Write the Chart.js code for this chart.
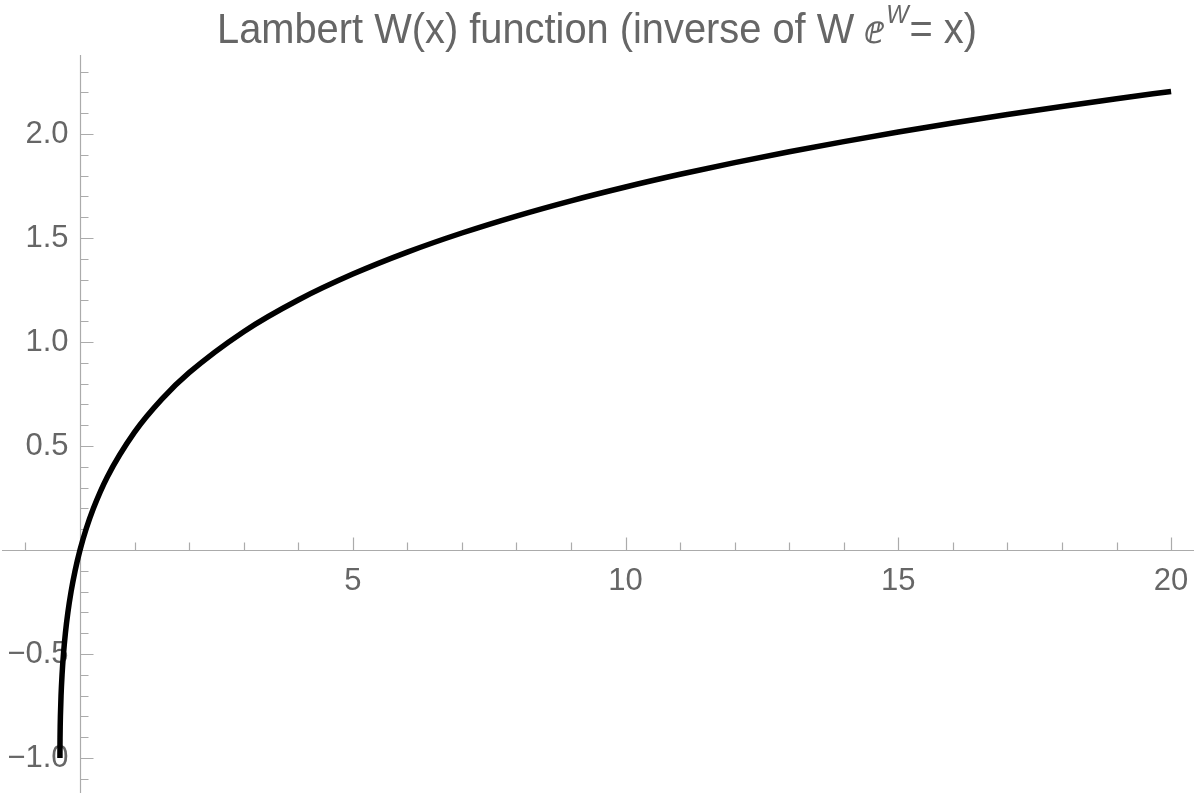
<!DOCTYPE html>
<html>
<head>
<meta charset="utf-8">
<script src="https://cdn.jsdelivr.net/npm/chart.js@4/dist/chart.umd.min.js"></script>
<style>
  html, body { margin: 0; padding: 0; background: #fff; }
  canvas { display: block; }
</style>
</head>
<body>
<canvas id="grafico" width="1200" height="797"></canvas>
<script>
// Pontos (x, W(x))
const xs = [-0.3679, -0.3674, -0.3659, -0.3633, -0.3595, -0.3476, -0.3293, -0.3033, -0.2681, -0.2222,
            -0.1637, -0.0905, 0, 0.1105, 0.2443, 0.5, 1, 1.5, 2, 3, 4, 5, 6, 7, 8, 9, 10,
            11, 12, 13, 14, 15, 16, 17, 18, 19, 20];
const ws = [-1.0, -0.95, -0.90, -0.85, -0.80, -0.70, -0.60, -0.50, -0.40, -0.30,
            -0.20, -0.10, 0, 0.10, 0.20, 0.3517, 0.5671, 0.7259, 0.8526, 1.0499, 1.2022, 1.3267, 1.4324, 1.5243, 1.6058, 1.6791, 1.7455,
            1.8065, 1.8628, 1.9150, 1.9637, 2.0100, 2.0533, 2.0942, 2.1328, 2.1700, 2.2050];

// Marcas dos eixos
const xMajor = [5, 10, 15, 20];
const xLabels = ['5', '10', '15', '20'];
const xMinor = [-1, 1, 2, 3, 4, 6, 7, 8, 9, 11, 12, 13, 14, 16, 17, 18, 19];
const yMajor = [-1.0, -0.5, 0.5, 1.0, 1.5, 2.0];
const yLabels = ['\u22121.0', '\u22120.5', '0.5', '1.0', '1.5', '2.0'];
const yMinor = [-1.1, -0.9, -0.8, -0.7, -0.6, -0.4, -0.3, -0.2, -0.1, 0.1, 0.2, 0.3, 0.4,
                0.6, 0.7, 0.8, 0.9, 1.1, 1.2, 1.3, 1.4, 1.6, 1.7, 1.8, 1.9, 2.1, 2.2, 2.3];

const tituloPartes = ['Lambert W(x) function (inverse of W ', '\u2147', 'W', '= x)'];

const pontos = xs.map((x, i) => ({ x: x, y: ws[i] }));

const corEixo = '#ababab';
const corTexto = '#666666';
const fonte = '"Liberation Sans", Arial, Helvetica, sans-serif';

// Eixos ao estilo Mathematica, a cruzar na origem
const eixosPlugin = {
  id: 'eixos',
  beforeDatasetsDraw(chart) {
    const c = chart.ctx;
    const area = chart.chartArea;
    const sx = chart.scales.x, sy = chart.scales.y;
    const x0 = Math.round(sx.getPixelForValue(0)) + 0.5;
    const y0 = Math.round(sy.getPixelForValue(0)) + 0.5;
    c.save();
    c.strokeStyle = corEixo;
    c.lineWidth = 1.2;
    c.beginPath();
    c.moveTo(area.left, y0); c.lineTo(area.right, y0);
    c.moveTo(x0, area.top); c.lineTo(x0, area.bottom);
    // marcas no eixo x (para cima)
    xMajor.forEach(v => { const p = Math.round(sx.getPixelForValue(v)) + 0.5; c.moveTo(p, y0); c.lineTo(p, y0 - 13); });
    xMinor.forEach(v => { const p = Math.round(sx.getPixelForValue(v)) + 0.5; c.moveTo(p, y0); c.lineTo(p, y0 - 8); });
    // marcas no eixo y (para a direita)
    yMajor.forEach(v => { const p = Math.round(sy.getPixelForValue(v)) + 0.5; c.moveTo(x0, p); c.lineTo(x0 + 13, p); });
    yMinor.forEach(v => { const p = Math.round(sy.getPixelForValue(v)) + 0.5; c.moveTo(x0, p); c.lineTo(x0 + 8, p); });
    c.stroke();

    c.fillStyle = corTexto;
    c.font = '31px ' + fonte;
    c.textBaseline = 'alphabetic';
    c.textAlign = 'center';
    xMajor.forEach((v, i) => c.fillText(xLabels[i], sx.getPixelForValue(v), y0 + 39));
    c.textAlign = 'right';
    yMajor.forEach((v, i) => c.fillText(yLabels[i], x0 - 12, sy.getPixelForValue(v) + 9));
    c.restore();
  }
};

// Título com o expoente W
const tituloPlugin = {
  id: 'titulo',
  afterDraw(chart) {
    const c = chart.ctx;
    const fN = '42px ' + fonte;
    const fE = '40px ' + fonte;
    const fS = 'italic 25px ' + fonte;
    c.save();
    c.font = fN; const w0 = c.measureText(tituloPartes[0]).width;
    c.font = fE; const w1 = c.measureText(tituloPartes[1]).width;
    c.font = fS; const w2 = c.measureText(tituloPartes[2]).width;
    c.font = fN; const w3 = c.measureText(tituloPartes[3]).width;
    const total = w0 + w1 + w2 + w3 + 3;
    const esq = 217, largura = 760, base = 43;
    c.translate(esq, 0);
    c.scale(largura / total, 1);
    c.fillStyle = corTexto;
    c.textAlign = 'left';
    c.textBaseline = 'alphabetic';
    let x = 0;
    c.font = fN; c.fillText(tituloPartes[0], x, base); x += w0;
    c.font = fE; c.fillText(tituloPartes[1], x, base); x += w1 + 2;
    c.font = fS; c.fillText(tituloPartes[2], x, base - 20); x += w2 + 1;
    c.font = fN; c.fillText(tituloPartes[3], x, base);
    c.restore();
  }
};

const ctx = document.getElementById('grafico').getContext('2d');
new Chart(ctx, {
  type: 'scatter',
  data: {
    datasets: [{
      data: pontos,
      showLine: true,
      borderColor: '#000',
      borderWidth: 5.5,
      pointRadius: 0,
      borderCapStyle: 'butt',
      borderJoinStyle: 'round',
      cubicInterpolationMode: 'monotone'
    }]
  },
  options: {
    responsive: false,
    animation: false,
    devicePixelRatio: 1,
    layout: { padding: { left: 2, right: 6, top: 55, bottom: 4 } },
    plugins: { legend: { display: false }, tooltip: { enabled: false }, title: { display: false } },
    scales: {
      x: { type: 'linear', min: -1.43, max: 20.42, display: false },
      y: { type: 'linear', min: -1.168, max: 2.38, display: false }
    }
  },
  plugins: [eixosPlugin, tituloPlugin]
});
</script>
</body>
</html>
